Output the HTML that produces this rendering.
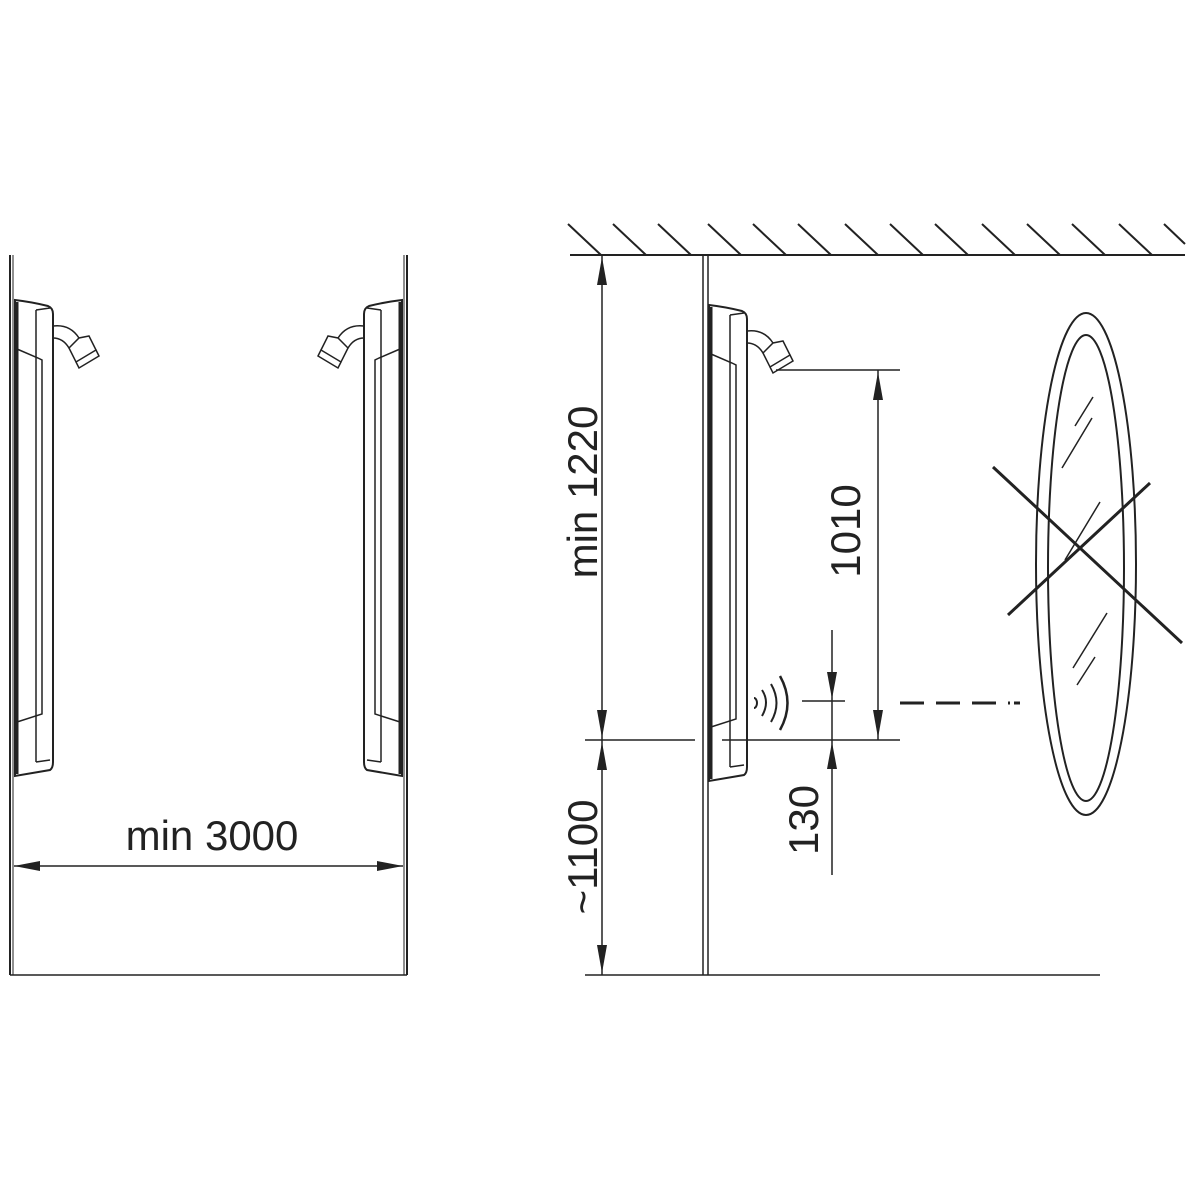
<!DOCTYPE html>
<html><head><meta charset="utf-8"><style>
html,body{margin:0;padding:0;background:#fff}
svg{display:block}
text{font-family:"Liberation Sans",sans-serif;fill:#222}
</style></head><body>
<svg width="1200" height="1200" viewBox="0 0 1200 1200" xmlns="http://www.w3.org/2000/svg">
<defs>
<g id="heater" fill="none" stroke="#222">
  <path d="M3,48 L3,524 L38,518 Q41,516 41,510 L41,62 Q41,56 36,54 Q20,50 3,48 Z" stroke-width="2"/>
  <line x1="5" y1="50" x2="5" y2="522" stroke-width="3"/>
  <path d="M24,58 L24,510" stroke-width="1.5"/>
  <path d="M24,58 L38,56" stroke-width="1.5"/>
  <path d="M5,97 L26,106 L30,108 L30,462 L5,470" stroke-width="1.5"/>
  <path d="M24,510 L38,508" stroke-width="1.5"/>
  <path d="M41,74 Q58,72 67,86" stroke-width="1.5"/>
  <path d="M41,86 Q51,86 57,96" stroke-width="1.5"/>
  <path d="M57,96 L64,110 L84,98 L77,84 L67,86 Z" stroke-width="1.5"/>
  <path d="M64,110 L67,116 L87,104 L84,98" stroke-width="1.5"/>
</g>
</defs>

<g stroke="#222" fill="none">
  <line x1="10" y1="255" x2="10" y2="975" stroke-width="2"/>
  <line x1="13" y1="255" x2="13" y2="975" stroke-width="1"/>
  <line x1="407" y1="255" x2="407" y2="975" stroke-width="2"/>
  <line x1="404" y1="255" x2="404" y2="975" stroke-width="1"/>
  <line x1="10" y1="975" x2="407" y2="975" stroke-width="1.5"/>
  <line x1="14" y1="866" x2="403" y2="866" stroke-width="1.5"/>
</g>
<polygon points="14,866 40,861 40,871" fill="#222"/>
<polygon points="403,866 377,861 377,871" fill="#222"/>
<use href="#heater" transform="translate(12,252)"/>
<use href="#heater" transform="translate(405,252) scale(-1,1)"/>
<text x="212" y="850" font-size="42" text-anchor="middle">min 3000</text>

<g stroke="#222" fill="none" stroke-width="2">
  <line x1="570" y1="255" x2="1185" y2="255"/>
  <line x1="568" y1="224" x2="601" y2="255"/>
  <line x1="613" y1="224" x2="646" y2="255"/>
  <line x1="658" y1="224" x2="691" y2="255"/>
  <line x1="708" y1="224" x2="741" y2="255"/>
  <line x1="753" y1="224" x2="786" y2="255"/>
  <line x1="798" y1="224" x2="831" y2="255"/>
  <line x1="845" y1="224" x2="878" y2="255"/>
  <line x1="890" y1="224" x2="923" y2="255"/>
  <line x1="935" y1="224" x2="968" y2="255"/>
  <line x1="982" y1="224" x2="1015" y2="255"/>
  <line x1="1027" y1="224" x2="1060" y2="255"/>
  <line x1="1072" y1="224" x2="1105" y2="255"/>
  <line x1="1119" y1="224" x2="1152" y2="255"/>
  <line x1="1164" y1="224" x2="1185" y2="244"/>
</g>
<g stroke="#222" fill="none">
  <line x1="703" y1="255" x2="703" y2="975" stroke-width="1.5"/>
  <line x1="708" y1="255" x2="708" y2="975" stroke-width="1.5"/>
  <line x1="585" y1="975" x2="1100" y2="975" stroke-width="1.5"/>
  <line x1="602" y1="255" x2="602" y2="975" stroke-width="1.5"/>
  <line x1="585" y1="740" x2="695" y2="740" stroke-width="1.5"/>
  <line x1="722" y1="740" x2="900" y2="740" stroke-width="1.5"/>
  <line x1="776" y1="370" x2="900" y2="370" stroke-width="1.5"/>
  <line x1="878" y1="370" x2="878" y2="740" stroke-width="1.5"/>
  <line x1="832" y1="630" x2="832" y2="875" stroke-width="1.5"/>
  <line x1="802" y1="701" x2="845" y2="701" stroke-width="1.5"/>
  <line x1="900" y1="703" x2="1010" y2="703" stroke-width="3" stroke-dasharray="24,12"/>
  <line x1="1014" y1="703" x2="1020" y2="703" stroke-width="3"/>
  <path d="M754,698 a3,5 0 0 1 0,10" stroke-width="2"/>
  <path d="M762,690 q8,12 0,26" stroke-width="2"/>
  <path d="M771,684 q11,19 0,38" stroke-width="2"/>
  <path d="M780,676 q15,27 0,54" stroke-width="2.5"/>
</g>
<g fill="#222">
  <polygon points="602,257 597,285 607,285"/>
  <polygon points="602,738 597,710 607,710"/>
  <polygon points="602,742 597,770 607,770"/>
  <polygon points="602,973 597,945 607,945"/>
  <polygon points="878,372 873,400 883,400"/>
  <polygon points="878,738 873,710 883,710"/>
  <polygon points="832,699 827,672 837,672"/>
  <polygon points="832,742 827,769 837,769"/>
</g>
<use href="#heater" transform="translate(706,257)"/>
<text transform="translate(597,492) rotate(-90)" font-size="42" text-anchor="middle">min 1220</text>
<text transform="translate(597,857) rotate(-90)" font-size="42" text-anchor="middle">~1100</text>
<text transform="translate(860,531) rotate(-90)" font-size="42" text-anchor="middle">1010</text>
<text transform="translate(818,820) rotate(-90)" font-size="42" text-anchor="middle">130</text>

<g stroke="#222" fill="none">
  <ellipse cx="1086" cy="564" rx="50" ry="251" stroke-width="2"/>
  <ellipse cx="1086" cy="568" rx="38" ry="233" stroke-width="2"/>
  <line x1="1093" y1="397" x2="1075" y2="426" stroke-width="1.5"/>
  <line x1="1092" y1="418" x2="1062" y2="468" stroke-width="1.5"/>
  <line x1="1100" y1="502" x2="1065" y2="560" stroke-width="1.5"/>
  <line x1="1107" y1="613" x2="1073" y2="668" stroke-width="1.5"/>
  <line x1="1095" y1="657" x2="1077" y2="685" stroke-width="1.5"/>
  <line x1="993" y1="467" x2="1182" y2="643" stroke-width="3"/>
  <line x1="1008" y1="615" x2="1150" y2="483" stroke-width="3"/>
</g>
</svg>
</body></html>
